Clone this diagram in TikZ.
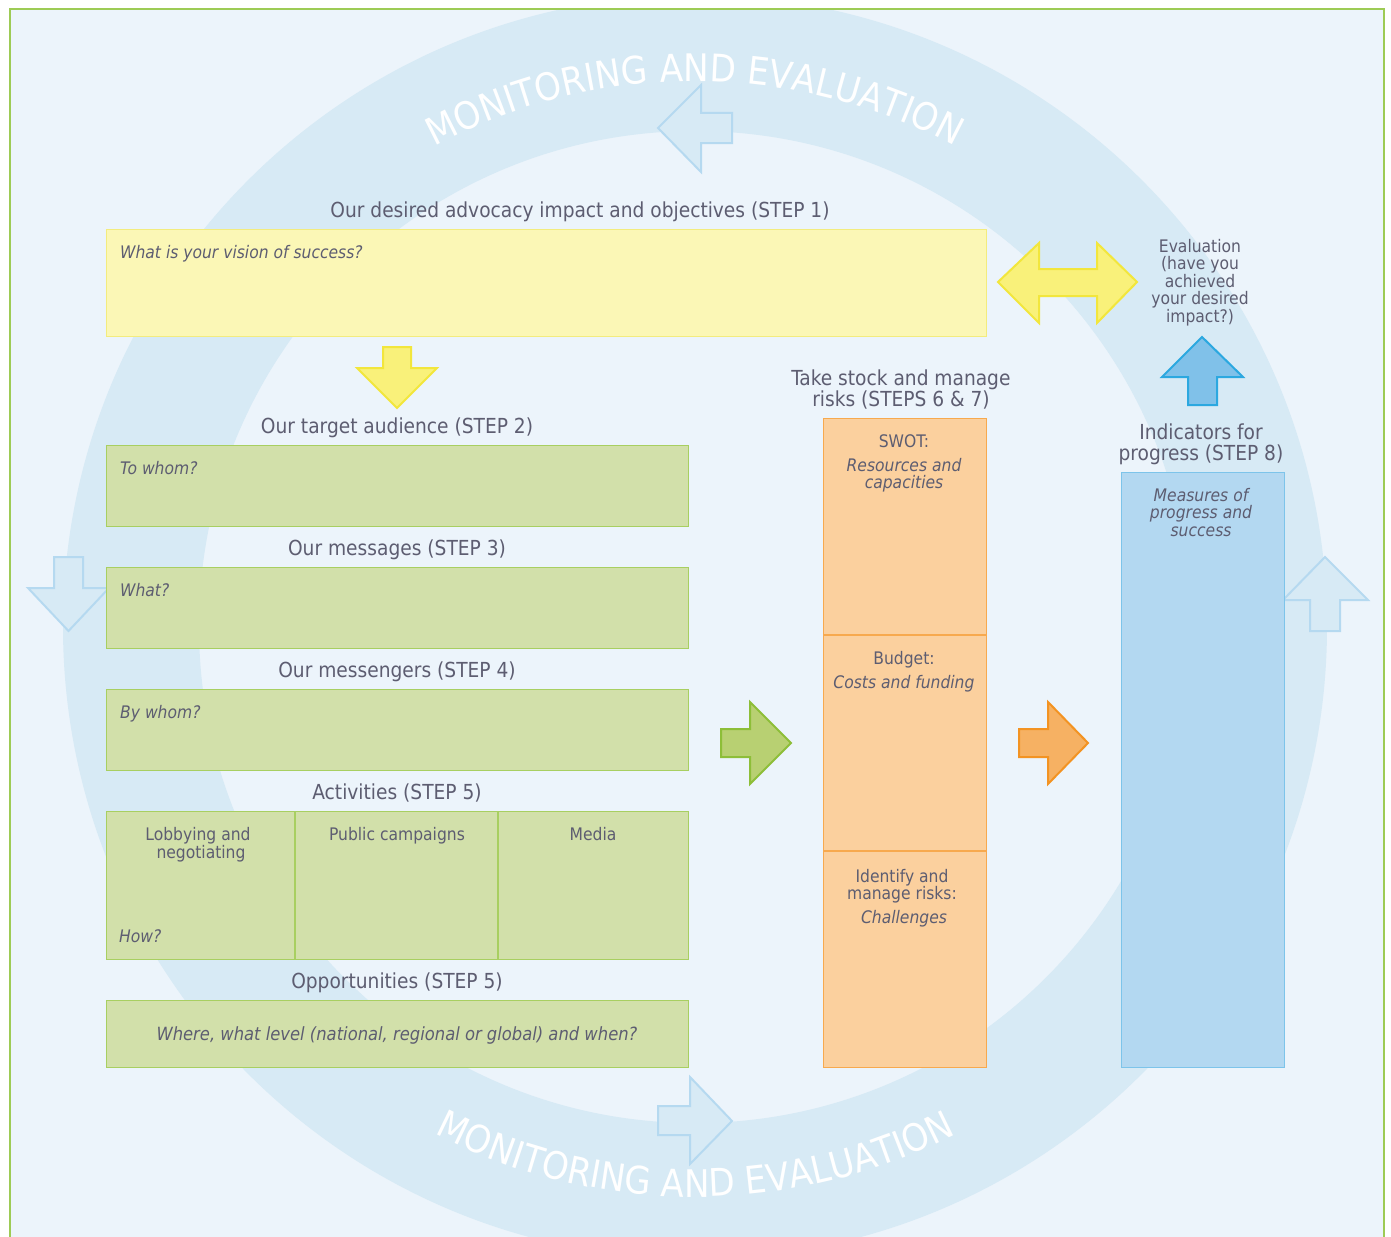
\documentclass[tikz,border=0pt]{standalone}
\usepackage{fontspec}
\setmainfont{DejaVu Sans Condensed}[ItalicFont={DejaVu Sans Condensed Oblique}]
\usetikzlibrary{decorations.text}
\definecolor{panel}{HTML}{ECF4FB}
\definecolor{ring}{HTML}{D7EAF5}
\definecolor{ringline}{HTML}{B5D9F0}
\definecolor{frame}{HTML}{9DCB55}
\definecolor{txt}{HTML}{5D5D71}
\definecolor{yfill}{HTML}{FBF7B6}
\definecolor{yline}{HTML}{F3EC7E}
\definecolor{yafill}{HTML}{F9F17A}
\definecolor{yaline}{HTML}{F2E63C}
\definecolor{gfill}{HTML}{D2E0AA}
\definecolor{gline}{HTML}{A8CF61}
\definecolor{gafill}{HTML}{B8D072}
\definecolor{galine}{HTML}{8DBE38}
\definecolor{ofill}{HTML}{FBD09E}
\definecolor{oline}{HTML}{F7A94E}
\definecolor{oafill}{HTML}{F6B163}
\definecolor{oaline}{HTML}{F39322}
\definecolor{bfill}{HTML}{B3D8F1}
\definecolor{bline}{HTML}{7DC4EA}
\definecolor{bafill}{HTML}{80C1E9}
\definecolor{baline}{HTML}{2BA8E0}
\newcommand\mefont{\color{white}\fontsize{38pt}{38pt}\selectfont}
\begin{document}
\begin{tikzpicture}[x=1pt,y=-1pt,
  lab/.style={text=txt, font=\fontsize{20.7pt}{23pt}\selectfont, inner sep=0pt, anchor=base},
  sm/.style={text=txt, font=\fontsize{17.3pt}{18pt}\selectfont, inner sep=0pt, anchor=base},
  it/.style={text=txt, font=\fontsize{17.3pt}{18pt}\selectfont\itshape, inner sep=0pt, anchor=base},
  box/.style={line width=1.2pt, inner sep=0pt, anchor=north west},
  ybox/.style={box, draw=yline, fill=yfill},
  gbox/.style={box, draw=gline, fill=gfill},
  obox/.style={box, draw=oline, fill=ofill},
  bbox/.style={box, draw=bline, fill=bfill},
  arr/.style={line width=2pt, line join=miter},
  ringarr/.style={arr, draw=ringline, fill=ring}
]
\useasboundingbox (0,0) rectangle (1391,1236);
\clip (0,0) rectangle (1391,1236);
\fill[white] (0,0) rectangle (1391,1236);
\fill[panel] (10,9) rectangle (1384,1260);
\begin{scope}
\clip (10,9) rectangle (1384,1260);
\fill[ring, even odd rule] (695,627) circle[radius=632pt] (695,627) circle[radius=496pt];
\end{scope}
\draw[frame, line width=1.3pt] (10,1260) -- (10,9) -- (1384,9) -- (1384,1260);

% ring texts
\path[decorate, decoration={text along path, text align=center,
  text={|\mefont|MONITORING AND EVALUATION}}]
  (378.4,180.9) arc[start angle=125, end angle=55, radius=551pt];
\path[decorate, decoration={text along path, text align=center,
  text={|\mefont|MONITORING AND EVALUATION}}]
  (368.1,1093.9) arc[start angle=235, end angle=305, radius=570pt];

% ring arrows
\draw[ringarr] (658,128) -- (701,85) -- (701,113) -- (732,113) -- (732,143) -- (701,143) -- (701,172) -- cycle;
\draw[ringarr] (658,1106) -- (690,1106) -- (690,1077) -- (732,1121) -- (690,1164) -- (690,1135) -- (658,1135) -- cycle;
\draw[ringarr] (54,557) -- (83,557) -- (83,588) -- (109,588) -- (68.5,631) -- (28,588) -- (54,588) -- cycle;
\draw[ringarr] (1325,557) -- (1368,600) -- (1340,600) -- (1340,631) -- (1310,631) -- (1310,600) -- (1283,600) -- cycle;

% step 1
\node[lab] (t1) at (580,217) {Our desired advocacy impact and objectives (STEP 1)};
\node[ybox, minimum width=880pt, minimum height=107pt] (b1) at (106,229) {};
\node[it, anchor=base west] (q1) at (120,258) {What is your vision of success?};
\draw[arr, draw=yaline, fill=yafill] (383,347) -- (411,347) -- (411,368) -- (437,368) -- (397,408) -- (357,368) -- (383,368) -- cycle;

% steps 2-5
\node[lab] (t2) at (397,433) {Our target audience (STEP 2)};
\node[gbox, minimum width=582pt, minimum height=81pt] (b2) at (106,445) {};
\node[it, anchor=base west] (q2) at (120,474) {To whom?};

\node[lab] (t3) at (397,555) {Our messages (STEP 3)};
\node[gbox, minimum width=582pt, minimum height=81pt] (b3) at (106,567) {};
\node[it, anchor=base west] (q3) at (120,596) {What?};

\node[lab] (t4) at (397,677) {Our messengers (STEP 4)};
\node[gbox, minimum width=582pt, minimum height=81pt] (b4) at (106,689) {};
\node[it, anchor=base west] (q4) at (120,718) {By whom?};

\node[lab] (t5) at (397,799) {Activities (STEP 5)};
\node[gbox, minimum width=582pt, minimum height=148pt] (b5) at (106,811) {};
\draw[gline, line width=1.2pt] (295,811) -- (295,959);
\draw[gline, line width=1.2pt] (498,811) -- (498,959);
\node[sm] (a1) at (198,840) {Lobbying and};
\node[sm] (a2) at (201,858) {negotiating};
\node[sm] (a3) at (397,840) {Public campaigns};
\node[sm] (a4) at (593,840) {Media};
\node[it, anchor=base west] (q5) at (119,942) {How?};

\node[lab] (t6) at (397,988) {Opportunities (STEP 5)};
\node[gbox, minimum width=582pt, minimum height=67pt] (b6) at (106,1000) {};
\node[it, font=\fontsize{18.2pt}{19pt}\selectfont\itshape] (q6) at (397,1040) {Where, what level (national, regional or global) and when?};

\draw[arr, draw=galine, fill=gafill] (721,729) -- (750,729) -- (750,702) -- (791,743) -- (750,784) -- (750,757) -- (721,757) -- cycle;

% steps 6-7
\node[lab] (t7) at (901,385) {Take stock and manage};
\node[lab] (t7b) at (901,406) {risks (STEPS 6 \& 7)};
\node[obox, minimum width=163pt, minimum height=649pt] (b7) at (823,418) {};
\draw[oline, line width=1.2pt] (823,635) -- (986,635);
\draw[oline, line width=1.2pt] (823,851) -- (986,851);
\node[sm] (o1) at (904,447) {SWOT:};
\node[it] (o2) at (904,471) {Resources and};
\node[it] (o3) at (904,488) {capacities};
\node[sm] (o4) at (904,664) {Budget:};
\node[it] (o5) at (904,688) {Costs and funding};
\node[sm] (o6) at (902,882) {Identify and};
\node[sm] (o7) at (902,899) {manage risks:};
\node[it] (o8) at (904,923) {Challenges};

\draw[arr, draw=oaline, fill=oafill] (1019,729) -- (1048,729) -- (1048,702) -- (1088,743) -- (1048,784) -- (1048,757) -- (1019,757) -- cycle;

% step 8
\node[lab] (t8) at (1201,439) {Indicators for};
\node[lab] (t8b) at (1201,460) {progress (STEP 8)};
\node[bbox, minimum width=163pt, minimum height=595pt] (b8) at (1121,472) {};
\node[it] (m1) at (1201,501) {Measures of};
\node[it] (m2) at (1201,518) {progress and};
\node[it] (m3) at (1201,536) {success};

\draw[arr, draw=baline, fill=bafill] (1202,337) -- (1243,377) -- (1217,377) -- (1217,405) -- (1188,405) -- (1188,377) -- (1162,377) -- cycle;

% evaluation
\draw[arr, draw=yaline, fill=yafill] (998,282) -- (1039,243) -- (1039,269) -- (1097,269) -- (1097,243) -- (1137,282) -- (1097,323) -- (1097,296) -- (1039,296) -- (1039,323) -- cycle;
\node[sm] (e1) at (1200,252) {Evaluation};
\node[sm] (e2) at (1200,269) {(have you};
\node[sm] (e3) at (1200,287) {achieved};
\node[sm] (e4) at (1200,304) {your desired};
\node[sm] (e5) at (1200,322) {impact?)};
\end{tikzpicture}
\end{document}
